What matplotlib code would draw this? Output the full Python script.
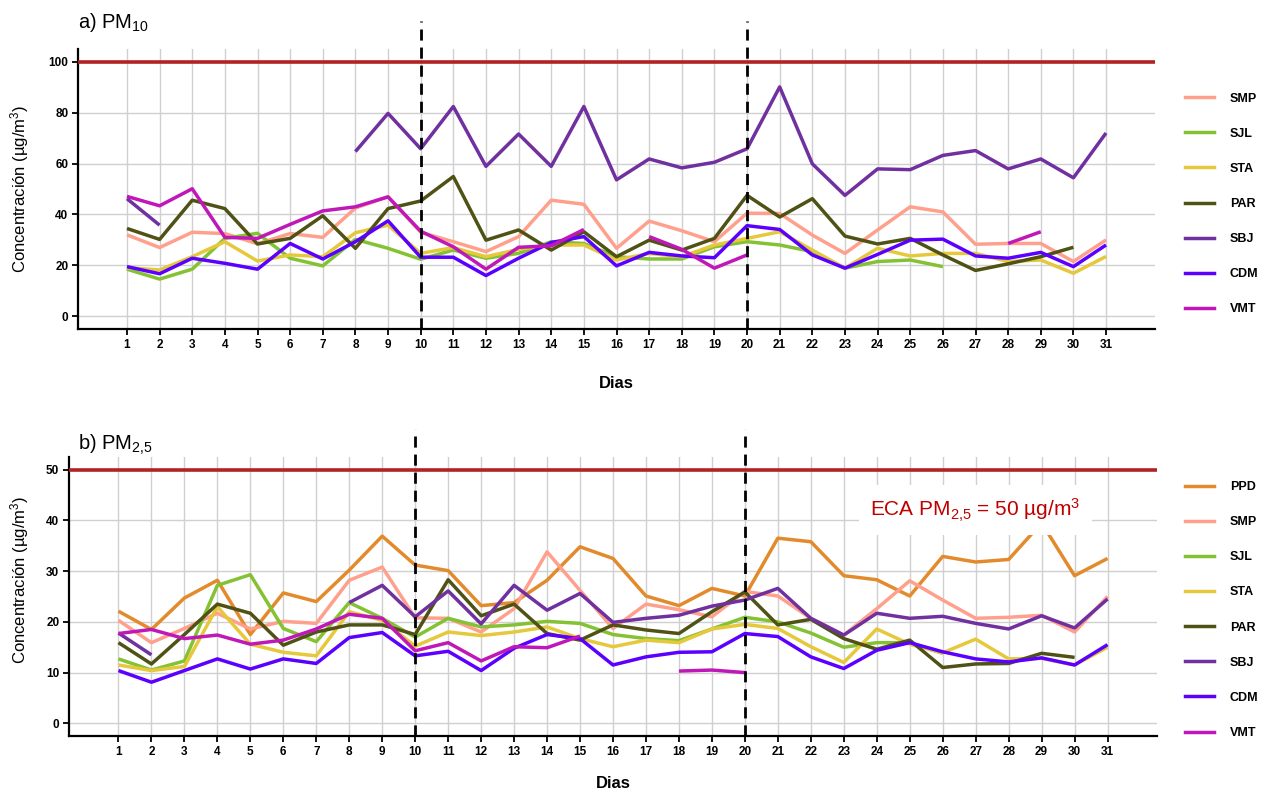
import numpy as np
import matplotlib.pyplot as plt
from matplotlib.lines import Line2D

plt.rcParams['font.family'] = ['Liberation Sans', 'DejaVu Sans']
plt.rcParams['mathtext.default'] = 'regular'

nan = np.nan
days = np.arange(1, 32)

# PM10 series (µg/m3)
pm10_smp = [32, 27, 33, 32.5, 28.5, 32.5, 31, 42.5, 47, 33, 29.3, 25.4, 31.3, 45.6, 44, 26.7,
            37.4, 33.6, 29.3, 40.5, 40.4, 31.9, 24.7, 33.9, 43, 41, 28.3, 28.6, 28.6, 21.5, 30]
pm10_sjl = [18.5, 14.6, 18.5, 30.6, 32.6, 22.8, 19.8, 30.2, 26.7, 22.4, 26, 22.8, 24.7, 29.3, 28.6, 23.4,
            22.5, 22.5, 27.3, 29.3, 28, 25.4, 18.9, 21.5, 22.1, 19.5, nan, nan, nan, nan, nan]
pm10_sta = [19.1, 18.2, 23.4, 29.3, 21.7, 24.1, 23.4, 32.8, 35.8, 24.7, 27, 23.4, 26.3, 28, 28, 22.1,
            24.7, 23.4, 28, 30.6, 33.2, 26, 18.9, 26.7, 23.7, 24.7, 24.7, 21.5, 22.1, 16.9, 23.5]
pm10_par = [34.5, 30.2, 45.6, 42.3, 28.4, 30.6, 39.5, 26.7, 42.3, 45.3, 54.9, 29.9, 33.9, 26, 33.2, 23.4,
            29.9, 26, 30.6, 47.5, 39, 46.2, 31.5, 28.4, 30.6, 24.1, 18, 20.6, 23.4, 27.1, nan]
pm10_sbj = [46.2, 35.8, nan, nan, nan, nan, nan, 64.7, 79.7, 65.8, 82.4, 58.9, 71.6, 58.9, 82.4, 53.6,
            61.8, 58.3, 60.5, 65.8, 90.1, 59.9, 47.5, 57.9, 57.6, 63.2, 65.1, 57.9, 61.8, 54.4, 72]
pm10_cdm = [19.5, 16.7, 22.8, 20.8, 18.5, 28.6, 22.5, 29.3, 37.5, 23.2, 23.2, 16, 22.8, 29, 31.3, 19.8,
            25.1, 23.7, 23, 35.6, 34.1, 24.1, 18.9, 24.3, 29.9, 30.3, 23.7, 22.8, 25.1, 19.5, 28]
pm10_vmt = [47.1, 43.4, 50.1, 31, 30.6, 36.1, 41.4, 43, 46.9, 33.4, 27.3, 18.5, 27.1, 27.7, 34.1, nan,
            31.3, 26.3, 18.9, 24.1, nan, nan, nan, nan, nan, nan, nan, 28.6, 33.2, nan, nan]

# PM2,5 series (µg/m3)
pm25_ppd = [22.1, 18.5, 24.7, 28.2, 17.5, 25.7, 24, 30.2, 36.9, 31.2, 30.1, 23.2, 23.8, 28.2, 34.8, 32.5,
            25.1, 23.2, 26.6, 25.1, 36.5, 35.8, 29.1, 28.3, 25.1, 32.9, 31.8, 32.3, 39.5, 29.1, 32.5]
pm25_smp = [20.3, 15.9, 18.7, 21.7, 18.6, 20.1, 19.7, 28.2, 30.8, 20.8, 20.7, 18, 22.6, 33.8, 26.2, 18.7,
            23.5, 22.4, 21, 26, 25.1, 20.7, 17.4, 22.6, 28.1, 24.3, 20.7, 20.9, 21.3, 18, 25]
pm25_sjl = [12.7, 10.5, 12.3, 27.2, 29.3, 18.7, 16.1, 23.8, 20.7, 17, 20.7, 19, 19.4, 20.1, 19.7, 17.5,
            16.7, 16.3, 18.6, 20.9, 20, 17.8, 15, 15.9, 15.9, 13.8, nan, nan, nan, nan, nan]
pm25_sta = [11.5, 10.4, 11.2, 23, 15.6, 14, 13.3, 22, 20.3, 15.2, 18, 17.3, 18, 19, 16.7, 15.1,
            16.4, 15.9, 18.6, 19.5, 18.7, 15.1, 12, 18.6, 15.6, 13.9, 16.6, 12.7, 12.8, 11.5, 15]
pm25_par = [15.9, 11.7, 17.5, 23.5, 21.7, 15.4, 18, 19.4, 19.4, 17.5, 28.3, 21.2, 23.5, 17.7, 16.4, 19.4,
            18.4, 17.7, 22, 25.9, 19.4, 20.5, 16.7, 14.6, 16.4, 11, 11.7, 11.8, 13.8, 13, nan]
pm25_sbj = [17.8, 13.5, nan, nan, nan, nan, nan, 23.8, 27.2, 21, 26.1, 19.6, 27.2, 22.3, 25.6, 19.9,
            20.7, 21.3, 23.1, 24.3, 26.6, 20.7, 17.4, 21.7, 20.7, 21.1, 19.7, 18.6, 21.2, 18.8, 24.5]
pm25_cdm = [10.4, 8.1, 10.4, 12.7, 10.7, 12.7, 11.8, 16.9, 17.9, 13.3, 14.2, 10.4, 14.8, 17.5, 16.7, 11.5,
            13.1, 14, 14.1, 17.7, 17.1, 13.1, 10.8, 14.4, 15.9, 14.1, 12.7, 12.1, 12.9, 11.5, 15.5]
pm25_vmt = [17.7, 18.5, 16.7, 17.4, 15.6, 16.4, 18.6, 21.5, 20.7, 14.3, 15.9, 12.3, 15.1, 14.9, 17.2, nan,
            nan, 10.3, 10.5, 10, nan, nan, nan, nan, nan, nan, nan, nan, nan, nan, nan]

colors = {'PPD': '#E38B2C', 'SMP': '#FFA08C', 'SJL': '#84C234', 'STA': '#E6C83C',
          'PAR': '#4F5214', 'SBJ': '#7030A0', 'CDM': '#5B00FF', 'VMT': '#C018B8'}

pm10 = [('SMP', pm10_smp), ('SJL', pm10_sjl), ('STA', pm10_sta), ('PAR', pm10_par),
        ('SBJ', pm10_sbj), ('CDM', pm10_cdm), ('VMT', pm10_vmt)]
pm25 = [('PPD', pm25_ppd), ('SMP', pm25_smp), ('SJL', pm25_sjl), ('STA', pm25_sta),
        ('PAR', pm25_par), ('SBJ', pm25_sbj), ('CDM', pm25_cdm), ('VMT', pm25_vmt)]

W, H = 1269, 799
fig = plt.figure(figsize=(W / 100, H / 100), dpi=100)


def panel(rect, series, limit, ystep, leg_y, xpad):
    ax = fig.add_axes(rect)
    for name, vals in series:
        ax.plot(days, vals, color=colors[name], lw=2.5, solid_capstyle='butt', zorder=3)
    ax.axhline(limit, color='#B22222', lw=2.6, zorder=4)
    pad = limit * 0.05
    ax.set_ylim(-pad, limit + pad)
    ax.set_xlim(-0.5, 32.5)
    # event markers, drawn a bit above the panel
    for d in (10, 20):
        ax.plot([d, d], [-pad, limit + 3.2 * pad], color='black', lw=2, ls=(0, (4, 2.5)),
                clip_on=False, zorder=5)
    ax.set_xticks(days)
    ax.set_yticks(np.arange(0, limit + 1, ystep))
    ax.grid(True, color='#D0D0D0', lw=1)
    ax.set_axisbelow(True)
    for s in ('top', 'right'):
        ax.spines[s].set_visible(False)
    for s in ('left', 'bottom'):
        ax.spines[s].set_linewidth(1.6)
    ax.tick_params(length=4, width=1.3, pad=3, labelsize=8.5)
    for t in ax.get_xticklabels() + ax.get_yticklabels():
        t.set_fontweight('bold')
    ax.set_xlabel('Dias', fontsize=12, fontweight='bold', labelpad=xpad)
    handles = [Line2D([], [], color=colors[n], lw=2.5) for n, _ in series]
    fig.legend(handles, [n for n, _ in series], loc='center left',
               bbox_to_anchor=(1185 / W, leg_y), frameon=False, borderpad=0, borderaxespad=0,
               handlelength=2.3, handletextpad=1.3, labelspacing=1.85,
               prop={'weight': 'bold', 'size': 9})
    return ax


ax1 = panel([78 / W, 1 - 329 / H, 1077 / W, 280 / H], pm10, 100, 20, 1 - 204 / H, 18)
ax2 = panel([69 / W, 1 - 736 / H, 1088 / W, 279 / H], pm25, 50, 10, 1 - 610 / H, 13)

fig.text(78 / W, 1 - 22 / H, 'a) PM$_{10}$', fontsize=14.5, va='center', ha='left')
fig.text(78 / W, 1 - 445 / H, 'b) PM$_{2{,}5}$', fontsize=14.5, va='center', ha='left')
fig.text(20 / W, 1 - 189 / H, 'Concentración (µg/m$^3$)', fontsize=12, rotation=90,
         va='center', ha='center')
fig.text(20 / W, 1 - 580 / H, 'Concentración (µg/m$^3$)', fontsize=12, rotation=90,
         va='center', ha='center')

ax2.text(27, 42, 'ECA PM$_{2{,}5}$ = 50 µg/m$^3$', color='#C00000', fontsize=15,
         ha='center', va='center', zorder=6,
         bbox=dict(boxstyle='square,pad=0.55', facecolor='white', edgecolor='none'))

fig.savefig('out.png', dpi=100)
